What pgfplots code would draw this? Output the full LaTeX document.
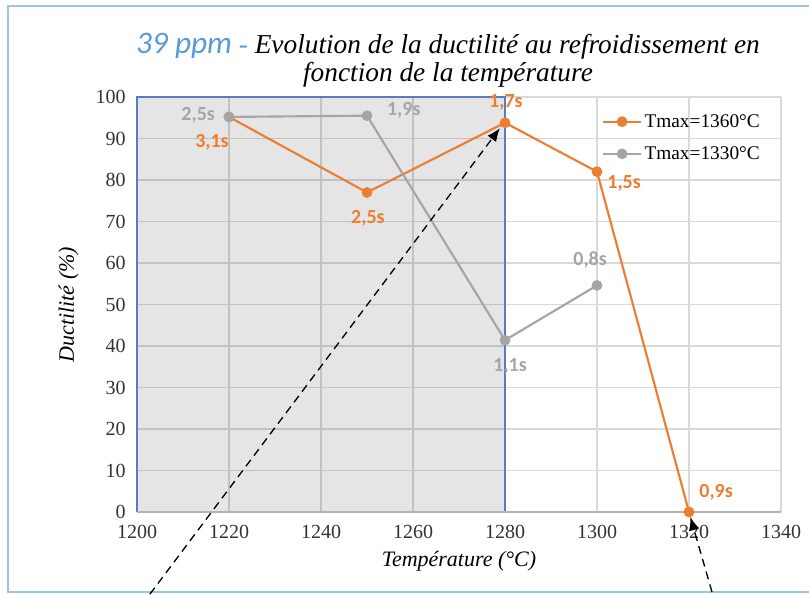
\documentclass[border=0pt]{standalone}
\usepackage{pgfplots}
\pgfplotsset{compat=1.18}
\usepackage{fontspec}
\setmainfont{Liberation Serif}
\newfontfamily\carlito{Carlito}
\usetikzlibrary{arrows.meta}
\definecolor{ora}{HTML}{ED7D31}
\definecolor{gra}{HTML}{A5A5A5}
\definecolor{gridc}{HTML}{D9D9D9}
\definecolor{framec}{HTML}{9DC3E6}
\definecolor{rectc}{HTML}{5B7BC0}
\definecolor{titleblue}{HTML}{5B9BD5}
\begin{document}
\begin{tikzpicture}
\useasboundingbox (0,0) rectangle (606.75pt,445.5pt);
\draw[framec, line width=1.5pt] (6pt,1.5pt) rectangle (612pt,441pt);
\node[font=\fontsize{20.5}{21}\selectfont\itshape, align=center] at (336pt,400pt)
 {{\carlito\fontsize{23.5}{21}\selectfont\color{titleblue}39 ppm} {\color{titleblue}-} Evolution de la ductilité au refroidissement en\\fonction de la température};
\begin{axis}[
  at={(102.75pt,61.5pt)}, anchor=south west,
  scale only axis, width=483pt, height=311.25pt,
  xmin=1200, xmax=1340, ymin=0, ymax=100,
  xtick={1200,1220,...,1340}, ytick={0,10,...,100},
  grid=major, major grid style={gridc, line width=0.8pt},
  axis line style={draw=none},
  tick style={draw=none},
  /pgf/number format/assume math mode=true,
  /pgf/number format/1000 sep={},
  ticklabel style={font=\fontsize{15}{17}\selectfont, text=black!80},
  xticklabel style={yshift=-6pt},
  yticklabel style={xshift=-5pt},
  xlabel={\textit{Température (°C)}},
  ylabel={\textit{Ductilité (\%)}},
  label style={font=\fontsize{16.5}{18}\selectfont},
  xlabel style={yshift=-3pt},
  ylabel style={yshift=6pt},
  clip=false,
  legend style={at={(0.716,0.972)}, anchor=north west, draw=none, fill=none,
    font=\fontsize{14.5}{17}\selectfont, row sep=9pt},
  legend cell align=left,
  legend image code/.code={\draw[#1, mark repeat=2, mark phase=2] plot coordinates {(0pt,0pt)(14pt,0pt)(28pt,0pt)};},
]
\addplot[fill=black, fill opacity=0.1, draw=rectc, line width=1.1pt, forget plot]
  coordinates {(1200,0) (1280,0) (1280,100) (1200,100) (1200,0)};
\draw[gray!60, line width=0.8pt] (axis cs:1200,0) -- (axis cs:1340,0);
\addplot[ora, line width=1.6pt, mark=*, mark size=3.2pt] coordinates {
 (1220,95.2) (1250,77) (1280,93.8) (1300,82) (1320,0)};
\addlegendentry{Tmax=1360°C}
\addplot[gra, line width=1.6pt, mark=*, mark size=3.2pt] coordinates {
 (1220,95.2) (1250,95.5) (1280,41.4) (1300,54.6)};
\addlegendentry{Tmax=1330°C}
\begin{scope}[every node/.style={font=\carlito\bfseries\fontsize{15}{15}\selectfont, text=ora}]
\node at (axis cs:1216.3,89.2) {3,1s};
\node at (axis cs:1250.2,70.8) {2,5s};
\node at (axis cs:1280.2,98.6) {1,7s};
\node at (axis cs:1305.9,79.3) {1,5s};
\node at (axis cs:1325.9,4.8) {0,9s};
\end{scope}
\begin{scope}[every node/.style={font=\carlito\bfseries\fontsize{15}{15}\selectfont, text=gra}]
\node at (axis cs:1213.3,95.7) {2,5s};
\node at (axis cs:1258.0,96.9) {1,9s};
\node at (axis cs:1281.1,35.2) {1,1s};
\node at (axis cs:1298.5,60.7) {0,8s};
\end{scope}
\draw[black, dashed, line width=1pt, dash pattern=on 6pt off 4pt, -{Latex[length=10pt,width=8pt]}]
  (axis cs:1202.8,-19.8) -- (axis cs:1278.9,92.5);
\draw[black, dashed, line width=1pt, dash pattern=on 6pt off 4pt, -{Latex[length=10pt,width=8pt]}]
  (axis cs:1325,-19.3) -- (axis cs:1320.3,-1.2);
\end{axis}
\end{tikzpicture}
\end{document}
